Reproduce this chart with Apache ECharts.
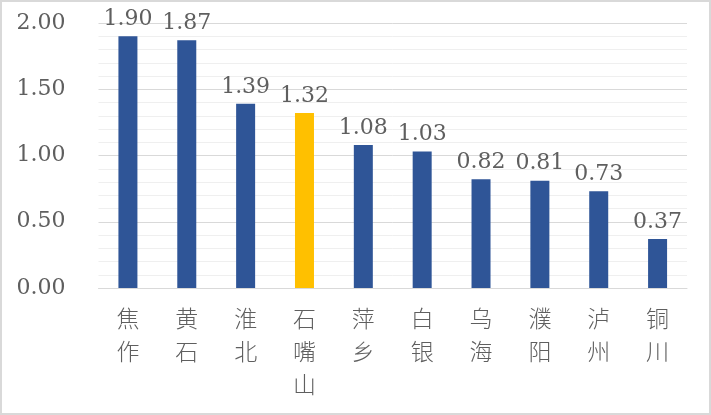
<!DOCTYPE html>
<html>
<head>
    <meta charset="utf-8"/>
    <title>ECharts</title>
    <script src="https://cdn.jsdelivr.net/npm/echarts@6/dist/echarts.min.js"></script>
    <style>
        html, body { margin: 0; padding: 0; background: #fff; }
        #wrap { width: 711px; height: 415px; box-sizing: border-box; border: 2px solid #d9d9d9; background: #fff; }
        #main { width: 707px; height: 411px; }
    </style>
</head>
<body>
<div id="wrap"><div id="main"></div></div>
<script type="text/javascript">
    var cities = ['焦作', '黄石', '淮北', '石嘴山', '萍乡', '白银', '乌海', '濮阳', '泸州', '铜川'];
    var values = [1.90, 1.87, 1.39, 1.32, 1.08, 1.03, 0.82, 0.81, 0.73, 0.37];
    var highlight = '石嘴山';
    var yTicks = [0, 0.5, 1.0, 1.5, 2.0];

    var blue = '#2f5597';
    var yellow = '#ffc000';
    var textColor = '#5f5f5f';

    var myChart = echarts.init(document.getElementById('main'));

    var barData = values.map(function (v, i) {
        return {
            value: v,
            itemStyle: { color: cities[i] === highlight ? yellow : blue }
        };
    });

    myChart.setOption({
        backgroundColor: '#fff',
        animation: false,
        grid: { left: 96.5, right: 22, top: 21, bottom: 125 },
        xAxis: {
            type: 'category',
            data: cities,
            axisLine: { lineStyle: { color: '#d9d9d9', width: 1 } },
            axisTick: { show: false },
            axisLabel: {
                color: textColor,
                fontSize: 23,
                fontWeight: 300,
                lineHeight: 33,
                margin: 14,
                fontFamily: 'Noto Sans CJK SC',
                formatter: function (v) { return v.split('').join('\n'); }
            }
        },
        yAxis: {
            type: 'value',
            min: yTicks[0],
            max: yTicks[yTicks.length - 1],
            interval: 0.5,
            axisLine: { show: false },
            axisTick: { show: false },
            axisLabel: {
                color: textColor,
                fontSize: 22,
                margin: 33,
                fontFamily: 'DejaVu Serif',
                formatter: function (v) { return v.toFixed(2); }
            },
            splitLine: { lineStyle: { color: '#d9d9d9', width: 1 } },
            minorTick: { show: false, splitNumber: 5 },
            minorSplitLine: { show: true, lineStyle: { color: '#efefef', width: 1 } }
        },
        series: [{
            type: 'bar',
            data: barData,
            barWidth: 19,
            label: {
                show: true,
                position: 'top',
                distance: 6,
                color: textColor,
                fontSize: 22,
                fontFamily: 'DejaVu Serif',
                formatter: function (p) { return p.value.toFixed(2); }
            }
        }]
    });
</script>
</body>
</html>
